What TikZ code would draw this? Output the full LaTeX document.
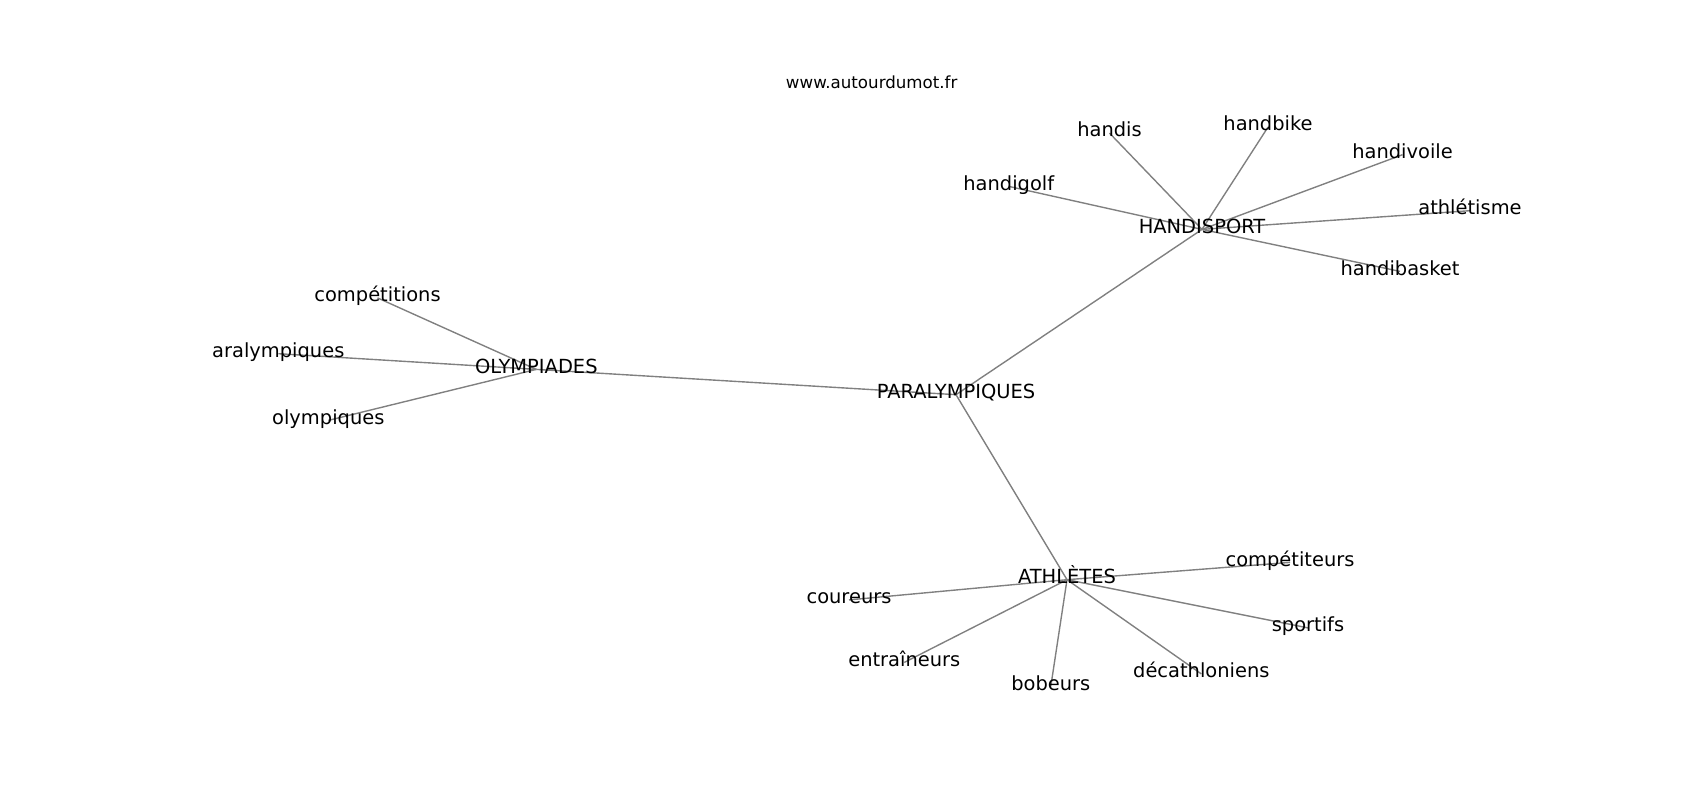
\documentclass[tikz,border=0pt]{standalone}
\usepackage{fontspec}
\setmainfont{DejaVu Sans}
\usetikzlibrary{backgrounds}
\tikzset{
  word/.style={font=\fontsize{14pt}{16pt}\selectfont, text height=0.76em, text depth=0.24em, inner sep=0pt, anchor=base, text=black},
  small/.style={font=\fontsize{12pt}{14pt}\selectfont, inner sep=0pt, anchor=base, text=black},
  edge/.style={draw=black!50, line width=1pt}
}
\begin{document}
\begin{tikzpicture}[x=0.72pt, y=-0.72pt]
\useasboundingbox (0,0) rectangle (1700,800);
\node[small] (site) at (871.7,88.3) {www.autourdumot.fr};
% hubs
\node[word] (para) at (956,398.3) {PARALYMPIQUES};
\node[word] (hand) at (1202,233) {HANDISPORT};
\node[word] (olym) at (536.3,373) {OLYMPIADES};
\node[word] (athl) at (1067,583.3) {ATHLÈTES};
% handisport leaves
\node[word] (handis) at (1109.5,136.7) {handis};
\node[word] (handbike) at (1268,130.7) {handbike};
\node[word] (handivoile) at (1402.5,158.3) {handivoile};
\node[word] (athletisme) at (1470,214.3) {athlétisme};
\node[word] (handibasket) at (1400,275) {handibasket};
\node[word] (handigolf) at (1008.8,190) {handigolf};
% olympiades leaves
\node[word] (competitions) at (377.5,301.5) {compétitions};
\node[word] (aralympiques) at (278.3,357.3) {aralympiques};
\node[word] (olympiques) at (328.3,424) {olympiques};
% athletes leaves
\node[word] (competiteurs) at (1290,566) {compétiteurs};
\node[word] (coureurs) at (849,603.5) {coureurs};
\node[word] (sportifs) at (1308,631.5) {sportifs};
\node[word] (entraineurs) at (904.3,666) {entraîneurs};
\node[word] (bobeurs) at (1050.8,690) {bobeurs};
\node[word] (decath) at (1201.3,677.5) {décathloniens};
\begin{scope}[on background layer]
\draw[edge] (para.center) -- (olym.center);
\draw[edge] (para.center) -- (hand.center);
\draw[edge] (para.center) -- (athl.center);
\foreach \n in {handis,handbike,handivoile,athletisme,handibasket,handigolf}
  \draw[edge] (hand.center) -- (\n.center);
\foreach \n in {competitions,aralympiques,olympiques}
  \draw[edge] (olym.center) -- (\n.center);
\foreach \n in {competiteurs,coureurs,sportifs,entraineurs,bobeurs,decath}
  \draw[edge] (athl.center) -- (\n.center);
\end{scope}
\end{tikzpicture}
\end{document}
